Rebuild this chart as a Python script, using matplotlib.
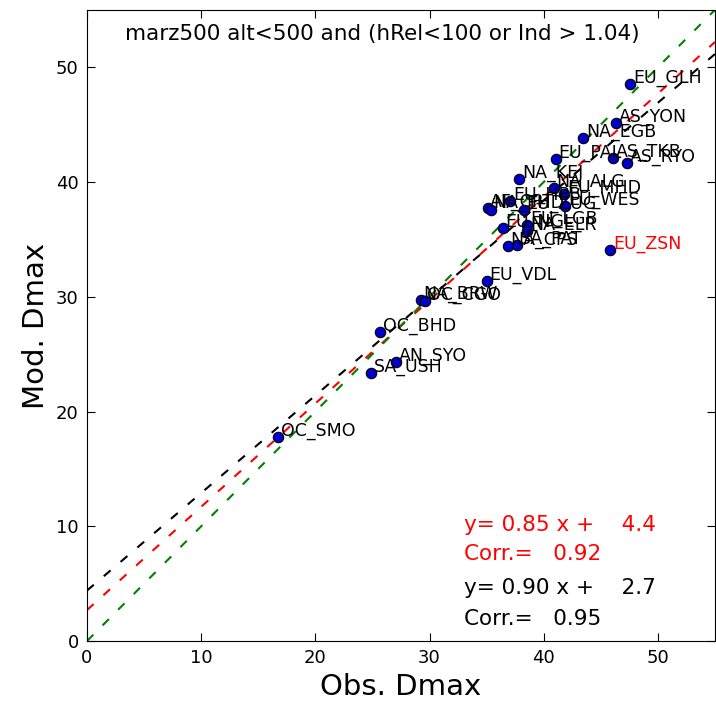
import matplotlib
matplotlib.use("Agg")
import matplotlib.pyplot as plt
import numpy as np

stations = ['EU_GLH', 'AS_YON', 'NA_EGB', 'EU_PAL', 'AS_TKB', 'AS_RYO',
            'NA_KEJ', 'NA_ALG', 'EU_MHD', 'EU_WES', 'EU_HPB', 'AF_CPT',
            'NA_THD', 'EU_ZUG', 'EU_NGL', 'EU_LGB', 'NA_ELR', 'NA_CPS',
            'SA_PAT', 'EU_ZSN', 'EU_VDL', 'NA_BRW', 'OC_CGO', 'OC_BHD',
            'AN_SYO', 'SA_USH', 'OC_SMO']
obs = [47.59, 46.34, 43.47, 41.06, 46.08, 47.30,
       37.87, 40.90, 41.79, 41.90, 37.05, 35.08,
       35.37, 38.24, 36.41, 38.54, 38.54, 36.85,
       37.67, 45.85, 35.03, 29.24, 29.58, 25.66,
       27.05, 24.88, 16.75]
mod = [48.52, 45.10, 43.82, 42.01, 42.10, 41.67,
       40.23, 39.48, 38.96, 37.87, 38.37, 37.72,
       37.60, 37.59, 36.00, 36.28, 35.76, 34.45,
       34.49, 34.10, 31.39, 29.70, 29.64, 26.94,
       24.33, 23.37, 17.80]
outliers = ['EU_ZSN']

fit_all = (0.85, 4.4, 0.92)     # drawn black, text red
fit_sel = (0.90, 2.7, 0.95)     # drawn red, text black

title = 'marz500 alt<500 and (hRel<100 or Ind > 1.04)'

fig = plt.figure(figsize=(7.16, 7.06), dpi=100)
ax = fig.add_axes([0.1215, 0.092, 0.877, 0.894])
ax.set_xlim(0, 55)
ax.set_ylim(0, 55)

xx = np.array([0, 55])
dash = (4.3, 6.3)
ax.plot(xx, fit_all[0] * xx + fit_all[1], color='k', ls='--', lw=1.5, dashes=dash)
ax.plot(xx, fit_sel[0] * xx + fit_sel[1], color='r', ls='--', lw=1.5, dashes=dash)
ax.plot(xx, xx, color='g', ls='--', lw=1.5, dashes=dash)

ax.plot(obs, mod, 'o', color='#0000cc', mec='k', mew=0.8, ms=7.5, ls='none')
for n, x, y in zip(stations, obs, mod):
    c = 'r' if n in outliers else 'k'
    ax.annotate(n, (x, y), xytext=(2, 1), textcoords='offset points',
                fontsize=12.5, color=c, va='baseline')

ax.text(3.3, 52.9, title, fontsize=15.5, va='center', ha='left')

ax.text(33.0, 10.1, 'y= %4.2f x + %6.1f' % fit_all[:2], color='r', fontsize=15.5, va='center')
ax.text(33.0, 7.6, 'Corr.= %6.2f' % fit_all[2], color='r', fontsize=15.5, va='center')
ax.text(33.0, 4.6, 'y= %4.2f x + %6.1f' % fit_sel[:2], color='k', fontsize=15.5, va='center')
ax.text(33.0, 1.9, 'Corr.= %6.2f' % fit_sel[2], color='k', fontsize=15.5, va='center')

ax.set_xticks([0, 10, 20, 30, 40, 50])
ax.set_yticks([0, 10, 20, 30, 40, 50])
ax.tick_params(direction='in', top=True, right=True, length=6, labelsize=13, pad=6)
ax.set_xlabel('Obs. Dmax', fontsize=21)
ax.set_ylabel('Mod. Dmax', fontsize=21)

fig.savefig('out.png', dpi=100, facecolor='white')
